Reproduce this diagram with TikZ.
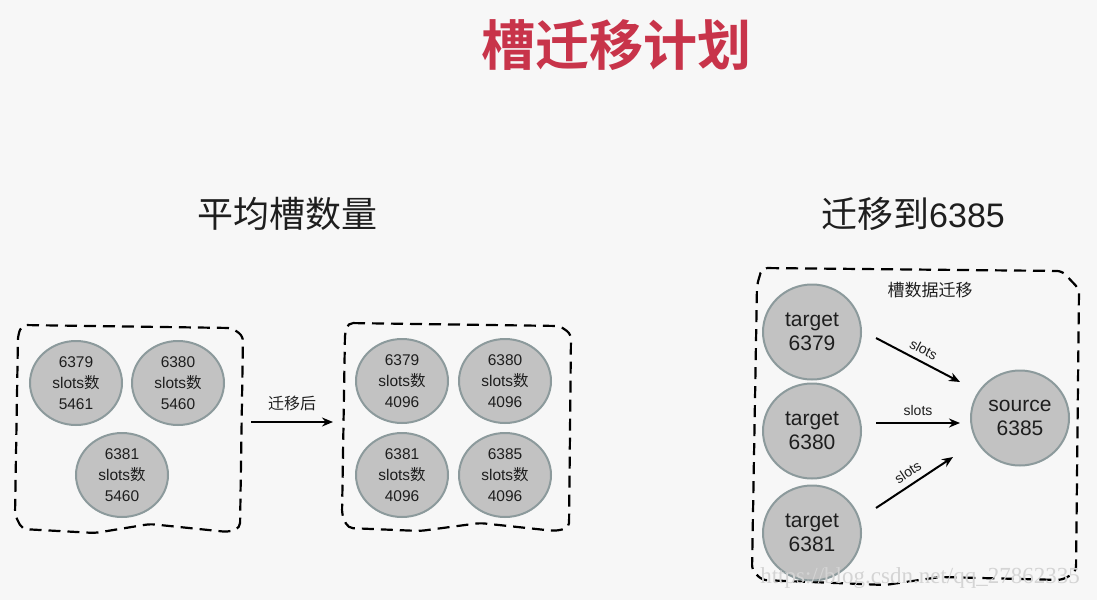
\documentclass[tikz,border=0pt]{standalone}
\usepackage{fontspec}
\setmainfont{Liberation Sans}
\newfontfamily\cjk{Noto Sans CJK SC}[BoldFont={Noto Sans CJK SC Bold}]
\newfontfamily\wm{Liberation Serif}
\usetikzlibrary{shapes.geometric,arrows.meta}
\definecolor{bg}{HTML}{F7F7F7}
\definecolor{titlered}{HTML}{C8344A}
\definecolor{cfill}{HTML}{C2C2C2}
\definecolor{cdraw}{HTML}{8C9A9C}
\definecolor{txt}{HTML}{1E1E1E}
\begin{document}
\begin{tikzpicture}[x=1pt,y=-1pt,
  slotnode/.style={ellipse,fill=cfill,draw=cdraw,line width=2pt,minimum width=92pt,minimum height=84pt,inner sep=0pt,align=center,font=\fontsize{15.5}{21}\selectfont,text=txt},
  bignode/.style={ellipse,fill=cfill,draw=cdraw,line width=2pt,minimum width=98pt,minimum height=95pt,inner sep=0pt,align=center,font=\fontsize{21}{24}\selectfont,text=txt},
  dashbox/.style={draw=black,line width=2.2pt,dash pattern=on 12pt off 7pt,rounded corners=5pt},
  arr/.style={draw=black,line width=2pt,-{Stealth[length=11pt,width=9pt]}},
  lbl/.style={text=txt,inner sep=1pt}]
\fill[bg] (0,0) rectangle (1097,600);
\useasboundingbox (0,0) rectangle (1097,600);
% titles
\node[text=titlered,font={\cjk\bfseries\fontsize{54}{54}\selectfont}] (title) at (616,45) {槽迁移计划};
\node[text=txt,font={\cjk\fontsize{36}{36}\selectfont}] (sub1) at (287,214) {平均槽数量};
\node[text=txt,font={\fontsize{34}{36}\selectfont}] (sub2) at (913,214) {{\cjk\fontsize{36}{36}\selectfont 迁移到}6385};
% box 1
\draw[dashbox] (22,325) -- (232,328) -- (243,336) -- (240,528) -- (228,532) -- (150,524) -- (95,533) -- (22,529) -- (15,515) -- (18,335) -- cycle;
\node[slotnode] (a1) at (76,383) {6379\\slots{\cjk 数}\\5461};
\node[slotnode] (a2) at (178,383) {6380\\slots{\cjk 数}\\5460};
\node[slotnode] (a3) at (122,475) {6381\\slots{\cjk 数}\\5460};
% box 2
\draw[dashbox] (348,323) -- (560,326) -- (571,334) -- (569,528) -- (555,531) -- (480,523) -- (420,531) -- (348,528) -- (342,515) -- (345,333) -- cycle;
\node[slotnode] (b1) at (402,381) {6379\\slots{\cjk 数}\\4096};
\node[slotnode] (b2) at (505,381) {6380\\slots{\cjk 数}\\4096};
\node[slotnode] (b3) at (402,475) {6381\\slots{\cjk 数}\\4096};
\node[slotnode] (b4) at (505,475) {6385\\slots{\cjk 数}\\4096};
% arrow between boxes
\draw[arr] ([xshift=26pt,yshift=-39pt]a2.east) -- node[lbl,above=9pt,font={\cjk\fontsize{16}{16}\selectfont}] (mlab) {迁移后} ([xshift=-22pt,yshift=-41pt]b1.west);
% box 3
\draw[dashbox] (762,268) -- (1062,271) -- (1079,289) -- (1076,572) -- (1062,580) -- (940,577) -- (885,585) -- (762,580) -- (752,570) -- (757,285) -- cycle;
\node[lbl,font={\cjk\fontsize{17}{17}\selectfont}] (boxlab) at (930,290) {槽数据迁移};
\node[bignode] (t1) at (812,332) {target\\6379};
\node[bignode] (t2) at (812,431) {target\\6380};
\node[bignode] (t3) at (812,533) {target\\6381};
\node[bignode] (src) at (1020,418) {source\\6385};
\draw[arr] ([shift={(14,6)}]t1.east) -- node[lbl,sloped,above=5pt,font=\fontsize{14}{14}\selectfont] {slots} ([shift={(-10,-36)}]src.west);
\draw[arr] ([shift={(14,-8)}]t2.east) -- node[lbl,above=5pt,font=\fontsize{14}{14}\selectfont] {slots} ([shift={(-10,5)}]src.west);
\draw[arr] ([shift={(14,-25)}]t3.east) -- node[lbl,sloped,above=5pt,font=\fontsize{14}{14}\selectfont] {slots} ([shift={(-17,39)}]src.west);
% watermark
\node[text=black!17,font={\wm\fontsize{23}{23}\selectfont}] (wmark) at (920,578) {https://blog.csdn.net/qq\_27862335};
\end{tikzpicture}
\end{document}
